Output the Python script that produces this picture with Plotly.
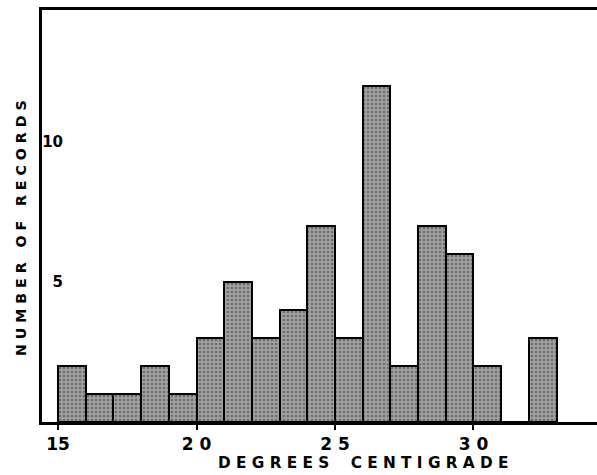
import plotly.graph_objects as go

# Temperature bins (lower edge, degrees C) and number of records per bin
bin_start = [15, 16, 17, 18, 19, 20, 21, 22, 23, 24, 25, 26, 27, 28, 29, 30, 31, 32]
records = [2, 1, 1, 2, 1, 3, 5, 3, 4, 7, 3, 12, 2, 7, 6, 2, 0, 3]

x_tick_vals = [15, 20, 25, 30]
x_tick_text = ["15", "2 0", "2 5", "3 0"]
y_tick_vals = [5, 10]
y_tick_text = ["5", "10"]

centers = [b + 0.5 for b in bin_start]

fig = go.Figure(
    go.Bar(
        x=centers,
        y=records,
        width=1,
        marker=dict(
            color="#939393",
            line=dict(color="black", width=2),
            pattern=dict(shape=".", fgcolor="#3c3c3c", bgcolor="#a0a0a0", size=4, solidity=0.35),
        ),
    )
)

font_main = "DejaVu Sans"

fig.update_layout(
    width=597,
    height=475,
    margin=dict(l=42, r=0, t=10, b=53),
    paper_bgcolor="white",
    plot_bgcolor="white",
    showlegend=False,
    bargap=0,
    font=dict(family=font_main, color="black"),
)

fig.update_xaxes(
    range=[14.42, 34.46],
    tickvals=x_tick_vals,
    ticktext=x_tick_text,
    ticks="outside",
    ticklen=5,
    tickwidth=2,
    tickcolor="black",
    ticklabeloverflow="allow",
    showline=True,
    linecolor="black",
    linewidth=3,
    mirror=True,
    showgrid=False,
    zeroline=False,
    tickfont=dict(size=17, family=font_main, color="black", weight="bold"),
)

# y labels sit just right of the axis line
fig.update_yaxes(
    range=[0, 14.7],
    tickvals=y_tick_vals,
    ticktext=y_tick_text,
    ticks="",
    ticklabelposition="outside",
    ticklabelstandoff=-27,
    showline=True,
    linecolor="black",
    linewidth=3,
    showgrid=False,
    zeroline=False,
    tickfont=dict(size=15, family=font_main, color="black", weight="bold"),
)

fig.add_annotation(
    text="D E G R E E S &nbsp; &nbsp;C E N T I G R A D E",
    xref="paper", yref="paper",
    x=(363 - 42) / 555, y=-(463 - 422) / 412,
    xanchor="center", yanchor="middle",
    showarrow=False,
    font=dict(size=15.3, family=font_main, color="black", weight="bold"),
)

fig.add_annotation(
    text="N U M B E R &nbsp; O F &nbsp; R E C O R D S",
    xref="paper", yref="paper",
    x=-(42 - 21) / 555, y=(422 - 228) / 412,
    xanchor="center", yanchor="middle",
    textangle=-90,
    showarrow=False,
    font=dict(size=14.2, family=font_main, color="black", weight="bold"),
)

fig.write_html("out.html")
